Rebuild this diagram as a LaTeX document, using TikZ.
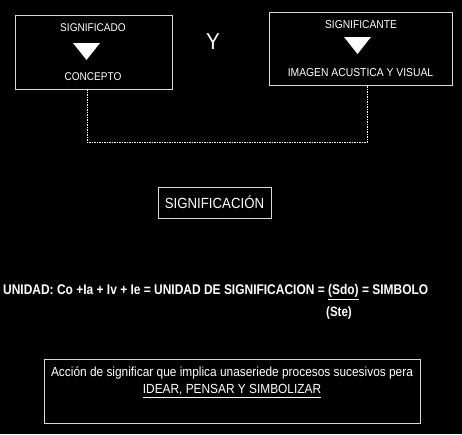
\documentclass[tikz,border=0pt]{standalone}
\usepackage{fontspec}
\setmainfont{Liberation Sans}[FakeStretch=0.9]
\usetikzlibrary{calc}
\begin{document}
\begin{tikzpicture}[x=1pt,y=-1pt,
  frame/.style={draw=black!15!white,line width=1pt},
  lbl/.style={text=white,inner sep=0pt,anchor=center},
  tri/.style={fill=white,draw=none},
  dashline/.style={draw=white,line width=0.8pt,dash pattern=on 1.5pt off 1pt}]
\fill[black] (0,0) rectangle (462,434);
\useasboundingbox (0,0) rectangle (462,434);
% boxes
\node[frame,minimum width=157pt,minimum height=74pt,inner sep=0pt] (L) at (93.5,52) {};
\node[frame,minimum width=183pt,minimum height=73pt,inner sep=0pt] (R) at (360.5,48.5) {};
\node[frame,minimum width=113pt,minimum height=31pt,inner sep=0pt] (S) at (214.5,202.5) {};
\node[frame,minimum width=376pt,minimum height=64pt,inner sep=0pt] (B) at (232,391) {};
% texts in left box
\node[lbl,font=\fontsize{11.2}{13}\selectfont] (Lt) at (93,28) {SIGNIFICADO};
\node[lbl,font=\fontsize{11.2}{13}\selectfont] (Lb) at (93,77) {CONCEPTO};
\fill[tri] (73,43) -- (100,43) -- (86.5,60) -- cycle;
% texts in right box
\node[lbl,font=\fontsize{11.4}{13}\selectfont] (Rt) at (361,25) {SIGNIFICANTE};
\node[lbl,font=\fontsize{11.5}{13}\selectfont] (Rb) at (360.5,73) {IMAGEN ACUSTICA Y VISUAL};
\fill[tri] (344,37) -- (371,37) -- (357.5,54) -- cycle;
% Y
\node[lbl,font=\fontsize{23}{25}\selectfont] (Y) at (213,42) {Y};
% dashed connector
\coordinate (Lc) at (87,89);
\coordinate (Rc) at (367,85);
\draw[dashline] (Lc) |- ($(Rc)+(0,57)$) -- (Rc);
% significacion
\node[lbl,font=\fontsize{14.7}{16}\selectfont] (St) at (S.center) {SIGNIFICACIÓN};
% unidad line
\node[lbl,anchor=west,font=\bfseries\fontsize{14}{16}\selectfont] (U) at (3,292)
  {\scalebox{0.95}[1]{UNIDAD: Co +Ia + Iv + Ie = UNIDAD DE SIGNIFICACION = \underline{(Sdo)} = SIMBOLO}};
\node[lbl,font=\bfseries\fontsize{13.5}{15}\selectfont] (Ste) at (339,313) {\scalebox{0.95}[1]{(Ste)}};
% bottom text
\node[lbl,font=\fontsize{13.2}{15}\selectfont] (B1) at (232,373) {Acción de significar que implica unaseriede procesos sucesivos pera};
\node[lbl,font=\fontsize{13.2}{15}\selectfont] (B2) at (232,391) {\underline{IDEAR, PENSAR Y SIMBOLIZAR}};
\end{tikzpicture}
\end{document}
